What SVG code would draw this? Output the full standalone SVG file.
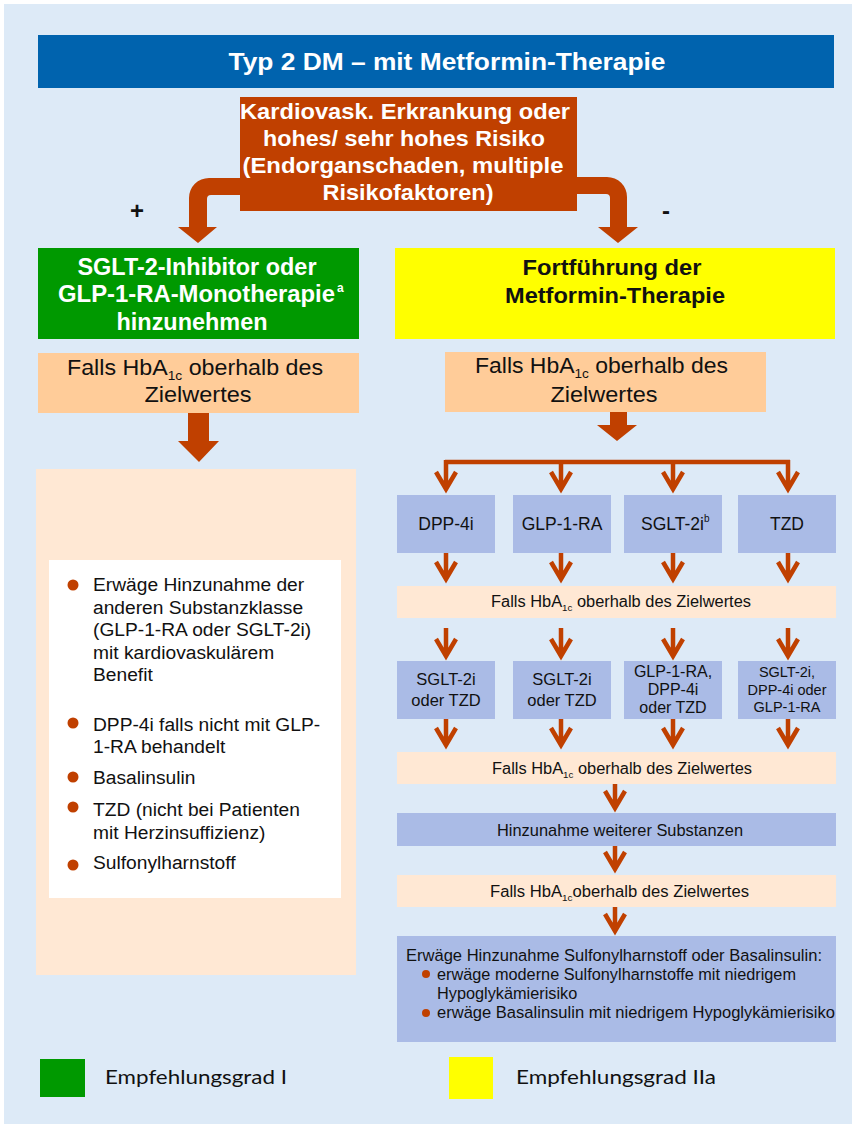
<svg xmlns="http://www.w3.org/2000/svg" width="855" height="1124" viewBox="0 0 855 1124">
<style>
.b{font-family:"Liberation Sans",Arial,sans-serif;font-weight:bold}
.r{font-family:"Liberation Sans",Arial,sans-serif}
.w{fill:#ffffff}
.k{fill:#111111}
.arr{fill:none;stroke:#C04000;stroke-width:4.5;stroke-linejoin:miter;stroke-linecap:butt}
.blk{fill:#C04000}
.blue{fill:#AABBE6}
.pl{fill:#FFE8D4}
.pk{fill:#FFCC99}
.dot{fill:#C04000}
</style>
<rect x="4" y="4" width="848" height="1120" fill="#DDEAF7"/>

<g id="title">
<rect x="38" y="35" width="796" height="53" fill="#0063AE"/>
<text class="b w" x="447" y="70" font-size="24" text-anchor="middle" textLength="437" lengthAdjust="spacingAndGlyphs">Typ 2 DM – mit Metformin-Therapie</text>
</g>

<g id="connectors">
<path class="blk" d="M240,178 H209 A20,20 0 0 0 189,198 V227 H178 L198,243 L217,227 H207 V199 A4,4 0 0 1 211,195 H240 Z"/>
<path class="blk" d="M577,177 H607 A20,20 0 0 1 627,197 V227 H638 L618,243 L598,227 H610 V198 A4,4 0 0 0 606,194 H577 Z"/>
<path class="blk" d="M188,413 H209 V441 H219 L199,462 L178,441 H188 Z"/>
<path class="blk" d="M610,412 H627 V425 H637 L617,441 L597,425 H610 Z"/>
<path class="arr" d="M445,462 H790"/>
<path class="arr" d="M446,460 V489 M436,472 L446,489 L456,472"/>
<path class="arr" d="M561,462 V489 M551,472 L561,489 L571,472"/>
<path class="arr" d="M673,462 V489 M663,472 L673,489 L683,472"/>
<path class="arr" d="M788,460 V489 M778,472 L788,489 L798,472"/>
<path class="arr" d="M446,553 V579 M436,562 L446,579 L456,562"/>
<path class="arr" d="M561,553 V579 M551,562 L561,579 L571,562"/>
<path class="arr" d="M673,553 V579 M663,562 L673,579 L683,562"/>
<path class="arr" d="M788,553 V579 M778,562 L788,579 L798,562"/>
<path class="arr" d="M446,628 V656 M436,639 L446,656 L456,639"/>
<path class="arr" d="M561,628 V656 M551,639 L561,656 L571,639"/>
<path class="arr" d="M673,628 V656 M663,639 L673,656 L683,639"/>
<path class="arr" d="M788,628 V656 M778,639 L788,656 L798,639"/>
<path class="arr" d="M446,719 V745 M436,728 L446,745 L456,728"/>
<path class="arr" d="M561,719 V745 M551,728 L561,745 L571,728"/>
<path class="arr" d="M673,719 V745 M663,728 L673,745 L683,728"/>
<path class="arr" d="M788,719 V745 M778,728 L788,745 L798,728"/>
<path class="arr" d="M615,784 V808 M605,791 L615,808 L625,791"/>
<path class="arr" d="M615,846 V869 M605,852 L615,869 L625,852"/>
<path class="arr" d="M615,907 V931 M605,914 L615,931 L625,914"/>
</g>

<g id="signs">
<text class="b k" x="137" y="219" font-size="24" text-anchor="middle">+</text>
<text class="b k" x="666" y="219" font-size="24" text-anchor="middle">-</text>
</g>

<g id="risk">
<rect x="240" y="97" width="337" height="114" fill="#C04000"/>
<text class="b w" x="405" y="119" font-size="22" text-anchor="middle" textLength="330" lengthAdjust="spacingAndGlyphs">Kardiovask. Erkrankung oder</text>
<text class="b w" x="404" y="146" font-size="22" text-anchor="middle" textLength="282" lengthAdjust="spacingAndGlyphs">hohes/ sehr hohes Risiko</text>
<text class="b w" x="403" y="173" font-size="22" text-anchor="middle" textLength="321" lengthAdjust="spacingAndGlyphs">(Endorganschaden, multiple</text>
<text class="b w" x="408" y="200" font-size="22" text-anchor="middle" textLength="171" lengthAdjust="spacingAndGlyphs">Risikofaktoren)</text>
</g>

<g id="sglt-glp">
<rect x="38" y="248" width="321" height="91" fill="#009900"/>
<text class="b w" x="197" y="275" font-size="23" text-anchor="middle" textLength="239" lengthAdjust="spacingAndGlyphs">SGLT-2-Inhibitor oder</text>
<text class="b w" x="58" y="302" font-size="23" textLength="277" lengthAdjust="spacingAndGlyphs">GLP-1-RA-Monotherapie</text>
<text class="b w" x="337" y="292" font-size="12">a</text>
<text class="b w" x="192" y="330" font-size="23" text-anchor="middle" textLength="151" lengthAdjust="spacingAndGlyphs">hinzunehmen</text>
</g>

<g id="hba-left">
<rect class="pk" x="38" y="353" width="321" height="60"/>
<text class="r k" x="67" y="375" font-size="22" textLength="256" lengthAdjust="spacingAndGlyphs">Falls HbA<tspan font-size="13" dy="5">1c</tspan><tspan dy="-5"> oberhalb des</tspan></text>
<text class="r k" x="198" y="402" font-size="22" text-anchor="middle" textLength="107" lengthAdjust="spacingAndGlyphs">Zielwertes</text>
</g>

<g id="options-left">
<rect class="pl" x="36" y="469" width="320" height="506"/>
<rect x="49" y="560" width="292" height="338" fill="#ffffff"/>
<circle class="dot" cx="73" cy="585" r="5.5"/>
<circle class="dot" cx="73" cy="723" r="5.5"/>
<circle class="dot" cx="73" cy="777" r="5.5"/>
<circle class="dot" cx="73" cy="807" r="5.5"/>
<circle class="dot" cx="73" cy="865" r="5.5"/>
<text class="r k" font-size="19.2">
<tspan x="93" y="591">Erwäge Hinzunahme der</tspan>
<tspan x="93" y="614">anderen Substanzklasse</tspan>
<tspan x="93" y="636">(GLP-1-RA oder SGLT-2i)</tspan>
<tspan x="93" y="659">mit kardiovaskulärem</tspan>
<tspan x="93" y="681">Benefit</tspan>
<tspan x="93" y="731">DPP-4i falls nicht mit GLP-</tspan>
<tspan x="93" y="753">1-RA behandelt</tspan>
<tspan x="93" y="784">Basalinsulin</tspan>
<tspan x="93" y="816">TZD (nicht bei Patienten</tspan>
<tspan x="93" y="839">mit Herzinsuffizienz)</tspan>
<tspan x="93" y="869">Sulfonylharnstoff</tspan>
</text>
</g>

<g id="metformin">
<rect x="395" y="248" width="440" height="91" fill="#FFFF00"/>
<text class="b k" x="612" y="275" font-size="22" text-anchor="middle" textLength="179" lengthAdjust="spacingAndGlyphs">Fortführung der</text>
<text class="b k" x="615" y="303" font-size="22" text-anchor="middle" textLength="220" lengthAdjust="spacingAndGlyphs">Metformin-Therapie</text>
</g>

<g id="hba-right">
<rect class="pk" x="445" y="352" width="321" height="60"/>
<text class="r k" x="475" y="373" font-size="22" textLength="253" lengthAdjust="spacingAndGlyphs">Falls HbA<tspan font-size="13" dy="5">1c</tspan><tspan dy="-5"> oberhalb des</tspan></text>
<text class="r k" x="604" y="402" font-size="22" text-anchor="middle" textLength="107" lengthAdjust="spacingAndGlyphs">Zielwertes</text>
</g>

<g id="dpp4i">
<rect class="blue" x="397" y="495" width="98" height="58"/>
<text class="r k" x="446" y="530" font-size="17.5" text-anchor="middle">DPP-4i</text>
</g>
<g id="glp1ra">
<rect class="blue" x="513" y="495" width="98" height="58"/>
<text class="r k" x="562" y="530" font-size="17.5" text-anchor="middle">GLP-1-RA</text>
</g>
<g id="sglt2i">
<rect class="blue" x="624" y="495" width="98" height="58"/>
<text class="r k" x="641" y="530" font-size="17.5">SGLT-2i<tspan font-size="10" dy="-8">b</tspan></text>
</g>
<g id="tzd">
<rect class="blue" x="738" y="495" width="98" height="58"/>
<text class="r k" x="787" y="530" font-size="17.5" text-anchor="middle">TZD</text>
</g>

<g id="hba-bar1">
<rect class="pl" x="397" y="586" width="439" height="32"/>
<text class="r k" x="491" y="607" font-size="16" textLength="260" lengthAdjust="spacingAndGlyphs">Falls HbA<tspan font-size="9.5" dy="4">1c</tspan><tspan dy="-4"> oberhalb des Zielwertes</tspan></text>
</g>

<g id="col1-second">
<rect class="blue" x="397" y="661" width="98" height="58"/>
<text class="r k" x="446" y="685" font-size="16.5" text-anchor="middle">SGLT-2i</text>
<text class="r k" x="446" y="706" font-size="16.5" text-anchor="middle">oder TZD</text>
</g>
<g id="col2-second">
<rect class="blue" x="513" y="661" width="98" height="58"/>
<text class="r k" x="562" y="685" font-size="16.5" text-anchor="middle">SGLT-2i</text>
<text class="r k" x="562" y="706" font-size="16.5" text-anchor="middle">oder TZD</text>
</g>
<g id="col3-second">
<rect class="blue" x="624" y="661" width="98" height="58"/>
<text class="r k" x="673" y="677" font-size="16" text-anchor="middle">GLP-1-RA,</text>
<text class="r k" x="673" y="695" font-size="16" text-anchor="middle">DPP-4i</text>
<text class="r k" x="673" y="713" font-size="16" text-anchor="middle">oder TZD</text>
</g>
<g id="col4-second">
<rect class="blue" x="738" y="661" width="98" height="58"/>
<text class="r k" x="787" y="677" font-size="14.5" text-anchor="middle">SGLT-2i,</text>
<text class="r k" x="787" y="695" font-size="14.5" text-anchor="middle">DPP-4i oder</text>
<text class="r k" x="787" y="712" font-size="14.5" text-anchor="middle">GLP-1-RA</text>
</g>

<g id="hba-bar2">
<rect class="pl" x="397" y="752" width="439" height="32"/>
<text class="r k" x="492" y="774" font-size="16" textLength="260" lengthAdjust="spacingAndGlyphs">Falls HbA<tspan font-size="9.5" dy="4">1c</tspan><tspan dy="-4"> oberhalb des Zielwertes</tspan></text>
</g>

<g id="more">
<rect class="blue" x="397" y="813" width="439" height="33"/>
<text class="r k" x="620" y="836" font-size="16.4" text-anchor="middle">Hinzunahme weiterer Substanzen</text>
</g>

<g id="hba-bar3">
<rect class="pl" x="397" y="875" width="439" height="32"/>
<text class="r k" x="490" y="897" font-size="16" textLength="259" lengthAdjust="spacingAndGlyphs">Falls HbA<tspan font-size="9.5" dy="4">1c</tspan><tspan dy="-4">oberhalb des Zielwertes</tspan></text>
</g>

<g id="final">
<rect class="blue" x="397" y="936" width="439" height="106"/>
<text class="r k" x="406" y="961" font-size="16.3" textLength="416" lengthAdjust="spacingAndGlyphs">Erwäge Hinzunahme Sulfonylharnstoff oder Basalinsulin:</text>
<circle class="dot" cx="426" cy="974" r="4"/>
<text class="r k" x="437" y="980" font-size="16.3">erwäge moderne Sulfonylharnstoffe mit niedrigem</text>
<text class="r k" x="437" y="999" font-size="16.3">Hypoglykämierisiko</text>
<circle class="dot" cx="426" cy="1013" r="4"/>
<text class="r k" x="437" y="1018" font-size="16.3" textLength="398" lengthAdjust="spacingAndGlyphs">erwäge Basalinsulin mit niedrigem Hypoglykämierisiko</text>
</g>

<g id="legend">
<rect x="40" y="1059" width="45" height="38" fill="#009900"/>
<text x="105" y="1084" font-family="Lato,'Open Sans',sans-serif" font-size="20" fill="#111111" textLength="182" lengthAdjust="spacingAndGlyphs">Empfehlungsgrad I</text>
<rect x="449" y="1057" width="44" height="42" fill="#FFFF00"/>
<text x="516" y="1084" font-family="Lato,'Open Sans',sans-serif" font-size="20" fill="#111111" textLength="200" lengthAdjust="spacingAndGlyphs">Empfehlungsgrad IIa</text>
</g>
</svg>
